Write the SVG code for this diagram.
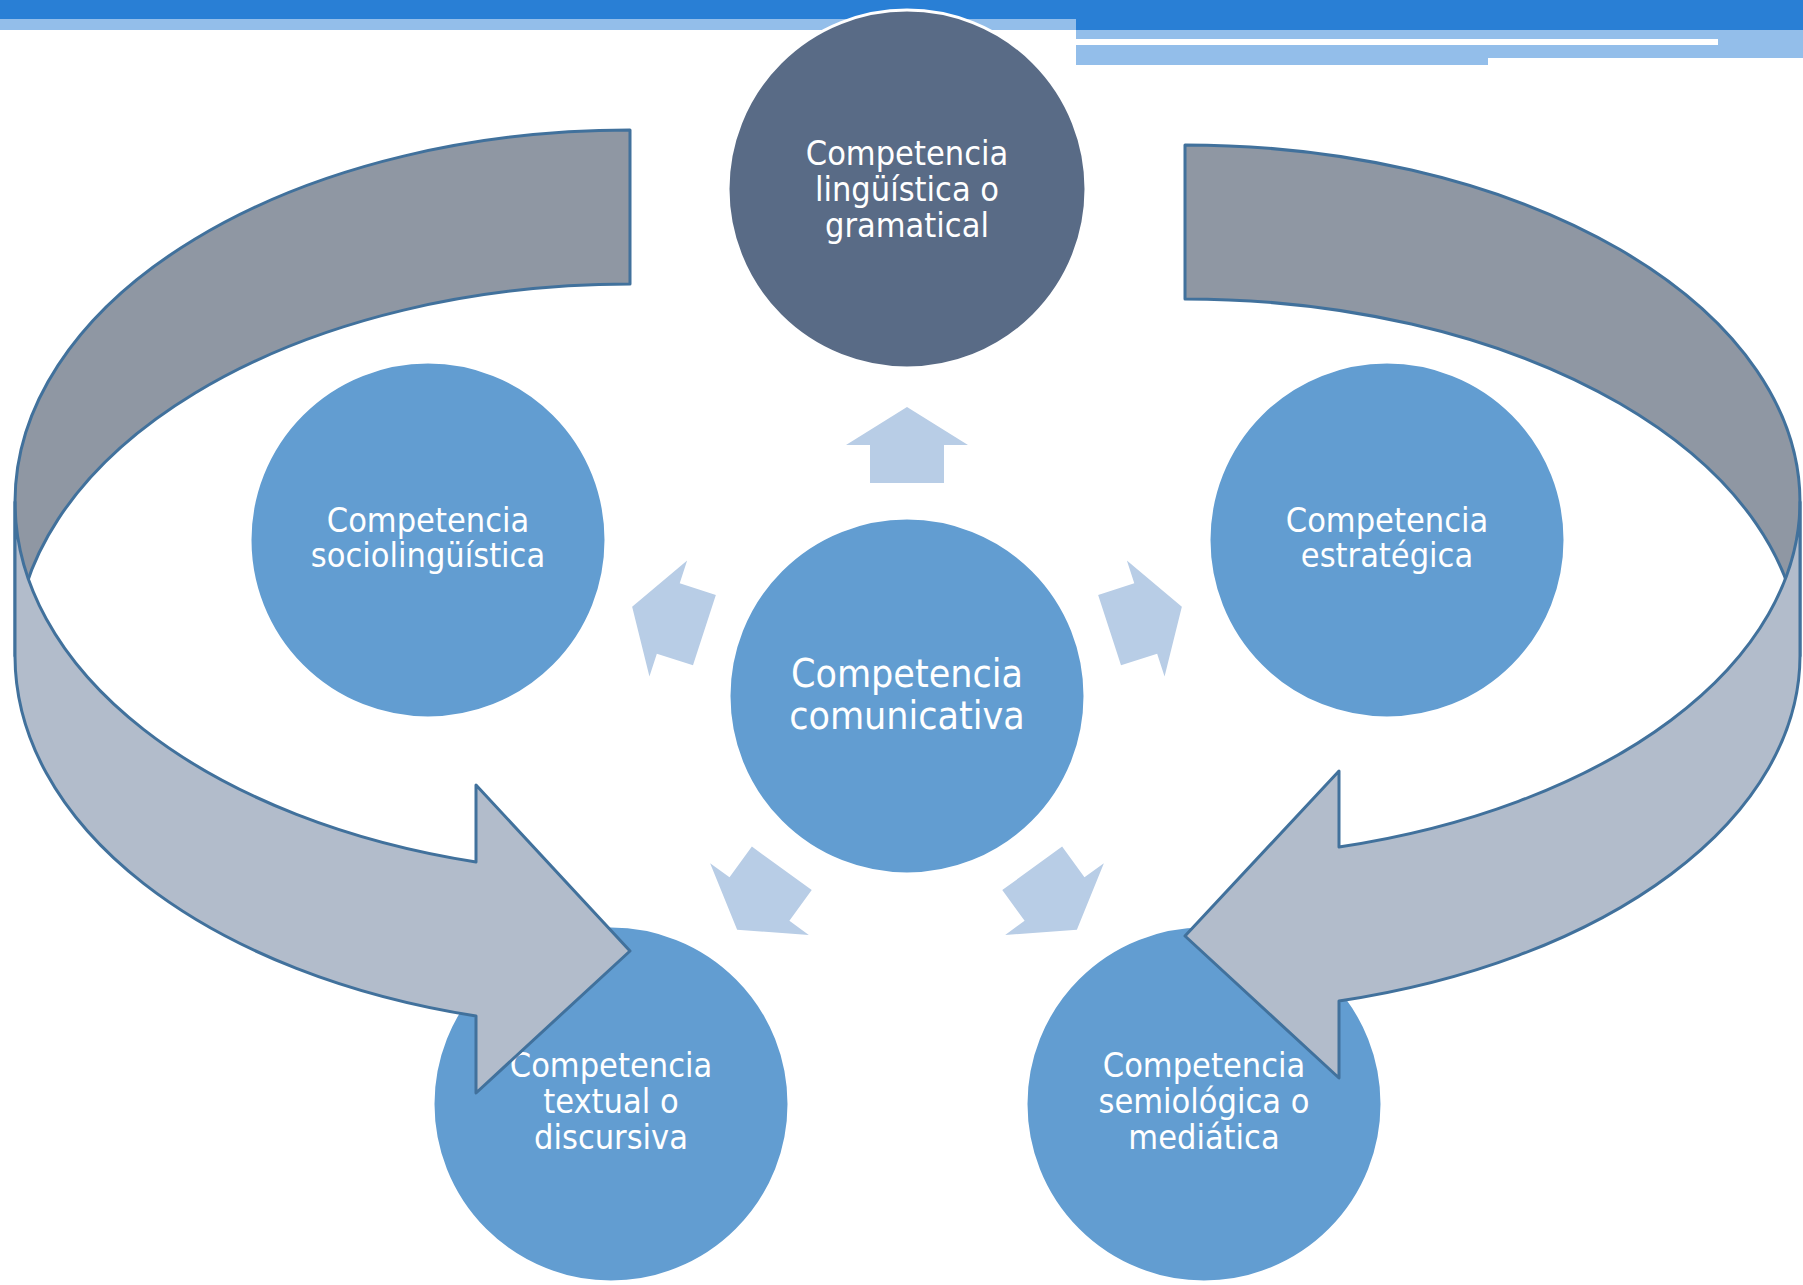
<svg xmlns="http://www.w3.org/2000/svg" width="1803" height="1285" viewBox="0 0 1803 1285">
  <style>
    .node { fill: #629DD1; stroke: #FFFFFF; stroke-width: 3; }
    .top { fill: #596B86; }
    .lbl { font-family: 'DejaVu Sans Condensed', 'DejaVu Sans', sans-serif; font-stretch: condensed; fill: #FFFFFF; text-anchor: middle; font-size: 34px; }
    .big { font-size: 39px; }
    .small { fill: #B8CDE6; }
    .back { fill: #8F97A3; stroke: #41719C; stroke-width: 3; stroke-linejoin: round; }
    .front { fill: #B2BCCB; stroke: #41719C; stroke-width: 3; stroke-linejoin: round; }
  </style>
  <defs>
    <polygon id="smallArrow" points="0,-289 61,-251 37,-251 37,-213 -37,-213 -37,-251 -61,-251"/>
  </defs>
  <rect width="1803" height="1285" fill="#FFFFFF"/>
  <!-- header bars -->
  <g id="header">
    <rect x="0" y="0" width="1803" height="19" fill="#297FD5"/>
    <rect x="1076" y="0" width="727" height="30" fill="#297FD5"/>
    <rect x="0" y="19" width="1076" height="11" fill="#93BEEA"/>
    <rect x="1076" y="30" width="727" height="28" fill="#93BEEA"/>
    <rect x="1076" y="58" width="412" height="7" fill="#93BEEA"/>
    <rect x="1076" y="39" width="642" height="6" fill="#FFFFFF"/>
  </g>
  <!-- small arrows -->
  <g id="connectors" transform="translate(907,696)">
    <use href="#smallArrow" class="small"/>
    <use href="#smallArrow" class="small" transform="rotate(72)"/>
    <use href="#smallArrow" class="small" transform="rotate(144)"/>
    <use href="#smallArrow" class="small" transform="rotate(-144)"/>
    <use href="#smallArrow" class="small" transform="rotate(-72)"/>
  </g>
  <g id="node-center">
    <circle class="node" cx="907" cy="696" r="178"/>
    <text class="lbl big" x="907" y="687">Competencia</text>
    <text class="lbl big" x="907" y="729">comunicativa</text>
  </g>
  <g id="node-linguistica">
    <circle class="node top" cx="907" cy="189" r="179"/>
    <text class="lbl" x="907" y="165">Competencia</text>
    <text class="lbl" x="907" y="201">lingüística o</text>
    <text class="lbl" x="907" y="237">gramatical</text>
  </g>
  <g id="node-socio">
    <circle class="node" cx="428" cy="540" r="178"/>
    <text class="lbl" x="428" y="532">Competencia</text>
    <text class="lbl" x="428" y="567">sociolingüística</text>
  </g>
  <g id="node-estrategica">
    <circle class="node" cx="1387" cy="540" r="178"/>
    <text class="lbl" x="1387" y="532">Competencia</text>
    <text class="lbl" x="1387" y="567">estratégica</text>
  </g>
  <g id="node-textual">
    <circle class="node" cx="611" cy="1104" r="178"/>
    <text class="lbl" x="611" y="1077">Competencia</text>
    <text class="lbl" x="611" y="1113">textual o</text>
    <text class="lbl" x="611" y="1149">discursiva</text>
  </g>
  <g id="node-semiologica">
    <circle class="node" cx="1204" cy="1104" r="178"/>
    <text class="lbl" x="1204" y="1077">Competencia</text>
    <text class="lbl" x="1204" y="1113">semiológica o</text>
    <text class="lbl" x="1204" y="1149">mediática</text>
  </g>
  <!-- big curved arrows -->
  <g id="curved-left">
    <path class="back" d="M 630,130 A 615 372 0 0 0 15,502 L 15,656 A 615 372 0 0 1 630,284 Z"/>
    <path class="front" d="M 15,502 A 615 372 0 0 0 476,862 L 476,785 L 630,951 L 476,1093 L 476,1016 A 615 372 0 0 1 15,656 Z"/>
  </g>
  <g id="curved-right">
    <path class="back" d="M 1185,145 A 615 357 0 0 1 1800,502 L 1800,656 A 615 357 0 0 0 1185,299 Z"/>
    <path class="front" d="M 1800,502 A 615 357 0 0 1 1339,847 L 1339,771 L 1185,936 L 1339,1078 L 1339,1001 A 615 357 0 0 0 1800,656 Z"/>
  </g>
</svg>
